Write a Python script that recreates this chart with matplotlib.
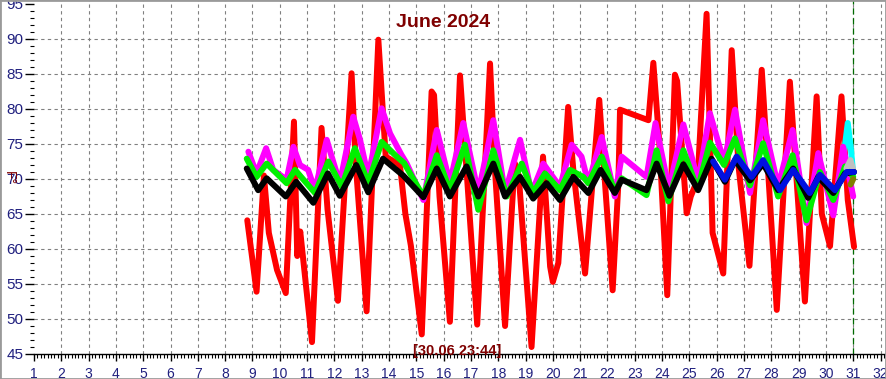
import matplotlib
matplotlib.use("Agg")
import matplotlib.pyplot as plt
from matplotlib.patches import Rectangle
from matplotlib.ticker import MultipleLocator

plt.rcParams["font.family"] = ["Liberation Sans", "DejaVu Sans"]

# readings taken off the June 2024 chart (day of month, deg F)
red_days = [8.81, 9.15, 9.42, 9.6, 9.9, 10.22, 10.52, 10.64, 10.75, 11.18,
            11.53, 11.75, 12.13, 12.63, 12.78, 13.18, 13.61, 13.88, 14.4, 14.6,
            14.8, 15.2, 15.56, 15.65, 15.85, 16.23, 16.6, 17.23, 17.7, 17.88,
            18.25, 18.6, 18.75, 19.22, 19.64, 19.9, 20.0, 20.2, 20.56, 20.75,
            21.18, 21.7, 21.85, 22.19, 22.4, 22.46, 23.5, 23.68, 23.9, 24.19,
            24.47, 24.55, 24.9, 25.05, 25.3, 25.63, 25.85, 26.24, 26.55, 26.8,
            27.2, 27.65, 28.2, 28.68, 29.23, 29.66, 29.85, 30.15, 30.57, 30.8,
            31.03]
red_temps = [64.1, 53.9, 70.5, 62.3, 57.0, 53.7, 78.2, 59.0, 62.5, 46.7,
             77.3, 65.6, 52.6, 85.1, 72.3, 51.1, 89.9, 73.2, 72.0, 65.0,
             60.5, 47.8, 82.5, 82.0, 67.5, 49.6, 84.8, 49.2, 86.5, 71.3,
             49.0, 72.3, 70.5, 46.0, 73.2, 57.5, 55.3, 58.0, 80.3, 71.3,
             56.5, 81.3, 72.7, 54.1, 69.4, 79.9, 78.4, 86.6, 75.1, 53.4,
             84.9, 84.0, 65.1, 67.5, 69.9, 93.6, 62.3, 56.5, 88.4, 71.8,
             57.6, 85.6, 51.3, 83.9, 52.5, 81.8, 65.0, 60.4, 81.8, 67.0,
             60.3]

magenta_days = [8.85, 9.15, 9.5, 9.76, 10.25, 10.5, 10.74, 11.04, 11.29, 11.72,
                11.9, 12.2, 12.69, 12.94, 13.24, 13.73, 14.04, 14.45, 14.65, 15.26,
                15.75, 16.23, 16.72, 17.27, 17.82, 18.25, 18.8, 19.22, 19.65, 20.26,
                20.69, 21.05, 21.3, 21.79, 22.27, 22.52, 23.43, 23.76, 24.25, 24.78,
                25.32, 25.75, 26.27, 26.67, 27.22, 27.7, 28.25, 28.78, 29.29, 29.72,
                30.27, 30.63, 31.0]
magenta_temps = [73.9, 70.8, 74.4, 71.3, 69.9, 74.6, 72.0, 71.3, 68.4, 75.6,
                 73.2, 69.4, 78.9, 75.6, 70.3, 80.1, 76.5, 73.5, 72.2, 67.0,
                 77.0, 69.4, 78.0, 68.0, 78.4, 68.0, 75.6, 68.0, 72.2, 68.9,
                 74.9, 73.2, 69.4, 76.0, 67.5, 73.2, 70.3, 78.0, 68.5, 77.8,
                 69.6, 79.4, 72.4, 79.9, 68.0, 78.4, 68.9, 77.0, 63.7, 73.7,
                 64.8, 74.6, 67.5]

green_days = [8.79, 9.15, 9.52, 10.25, 10.56, 11.29, 11.78, 12.27, 12.75, 13.24,
              13.73, 14.28, 14.55, 15.26, 15.75, 16.23, 16.78, 17.27, 17.82, 18.31,
              18.86, 19.28, 19.71, 20.26, 20.63, 21.11, 21.3, 21.79, 22.27, 22.52,
              23.43, 23.8, 24.23, 24.78, 25.3, 25.75, 26.27, 26.67, 27.22, 27.7,
              28.25, 28.78, 29.29, 29.78, 30.27, 30.7, 31.0]
green_temps = [72.9, 70.3, 72.2, 69.4, 71.3, 68.0, 72.5, 68.9, 74.4, 69.4,
               75.3, 73.2, 72.3, 67.5, 73.4, 68.4, 74.9, 65.6, 74.1, 67.5,
               72.2, 68.0, 70.8, 68.4, 71.3, 70.3, 69.4, 73.2, 68.2, 70.1,
               67.7, 74.1, 66.8, 74.1, 68.5, 75.2, 72.0, 75.8, 69.1, 75.1,
               67.5, 73.4, 64.1, 71.0, 67.0, 71.8, 70.3]

black_days = [8.79, 9.21, 9.52, 10.22, 10.6, 11.23, 11.76, 12.2, 12.8, 13.24,
              13.78, 14.52, 15.26, 15.75, 16.23, 16.84, 17.27, 17.82, 18.25, 18.8,
              19.28, 19.77, 20.26, 20.75, 21.3, 21.75, 22.27, 22.52, 23.43, 23.8,
              24.27, 24.78, 25.32, 25.81, 26.3, 26.67, 27.22, 27.7, 28.25, 28.8,
              29.35, 29.72, 30.27, 30.7, 31.03]
black_temps = [71.5, 68.4, 70.1, 67.5, 69.6, 66.6, 70.8, 67.6, 72.0, 68.1,
               72.9, 70.5, 67.4, 71.5, 67.5, 71.8, 67.5, 72.2, 67.5, 70.3,
               67.2, 69.4, 67.0, 70.3, 68.0, 71.3, 68.0, 69.9, 68.4, 72.2,
               67.6, 72.1, 68.4, 72.9, 69.6, 72.7, 69.8, 72.2, 68.4, 71.5,
               67.3, 70.3, 68.0, 70.8, 71.0]

blue_days = [25.87, 26.3, 26.73, 27.28, 27.7, 28.32, 28.8, 29.41, 29.78, 30.33,
             30.76, 31.03]
blue_temps = [72.5, 69.9, 73.2, 70.3, 72.7, 68.4, 71.3, 68.0, 70.6, 68.4,
              71.0, 71.0]

cyan_days = [30.6, 30.8, 30.92, 31.0]
cyan_temps = [71.8, 78.0, 74.1, 70.8]

gray_days = [30.75, 30.9, 31.0]
gray_temps = [71.5, 72.7, 71.3]

olive_days = [30.9, 31.0]
olive_temps = [69.2, 70.0]

day_ticks = list(range(1, 33))
month_title = "June 2024"
stamp_text = "[30.06 23:44]"

W, H = 886, 379
fig = plt.figure(figsize=(W / 100, H / 100), dpi=100)
fig.patch.set_facecolor("white")
ax = fig.add_axes([34 / W, 25 / H, 852 / W, 354 / H])
ax.set_facecolor("white")

ax.set_xlim(1, 32.2)
ax.set_ylim(45, 95 + 4 / 7)

# dashed grid, skipping the left edge and the top
for d in day_ticks[1:]:
    ax.axvline(d, color="#808080", linestyle=(0, (3, 3)), linewidth=0.8, zorder=0)
for v in range(50, 95, 5):
    ax.axhline(v, color="#808080", linestyle=(0, (3, 3)), linewidth=0.8, zorder=0)
ax.axvline(31, color="#006a00", linestyle=(0, (5, 3)), linewidth=0.9, zorder=1)

line_kw = dict(linewidth=4.3, solid_joinstyle="round", solid_capstyle="round")
ax.plot(red_days, red_temps, color="#ff0000", zorder=2, **line_kw)
ax.plot(cyan_days, cyan_temps, color="#00ffff", zorder=3, **line_kw)
ax.plot(magenta_days, magenta_temps, color="#ff00ff", zorder=3, **line_kw)
ax.plot(green_days, green_temps, color="#00f000", zorder=4, **line_kw)
ax.plot(gray_days, gray_temps, color="#c0c0c0", zorder=4, **line_kw)
ax.plot(olive_days, olive_temps, color="#808000", zorder=4, **line_kw)
ax.plot(black_days, black_temps, color="#000000", zorder=5, **line_kw)
ax.plot(blue_days, blue_temps, color="#0010e0", zorder=6, **line_kw)

for side in ["left", "top", "right"]:
    ax.spines[side].set_visible(False)
ax.spines["bottom"].set_color("black")
ax.spines["bottom"].set_linewidth(1.0)

ax.set_xticks(day_ticks)
ax.xaxis.set_minor_locator(MultipleLocator(1 / 8))
ax.yaxis.set_major_locator(MultipleLocator(5))
ax.yaxis.set_minor_locator(MultipleLocator(1))
ax.tick_params(axis="x", which="major", length=5, width=1, pad=4,
               labelsize=10, labelcolor="#20207f")
ax.tick_params(axis="x", which="minor", length=3, width=0.8)
ax.tick_params(axis="y", which="major", length=6.5, width=1, pad=1,
               labelsize=11, labelcolor="#20207f")
ax.tick_params(axis="y", which="minor", length=3, width=0.8)

fig.text(443 / W, 1 - 27 / H, month_title, ha="center", va="baseline",
         fontsize=14, fontweight="bold", color="#7f0000")
fig.text(457 / W, 1 - 355 / H, stamp_text, ha="center", va="baseline",
         fontsize=10.5, fontweight="bold", color="#7f0000")
fig.text(9 / W, 1 - 178 / H, "F°", ha="center", va="center", rotation=-90,
         fontsize=10, color="#7f0000")

fig.patches.append(Rectangle((0, 0), 1, 1, transform=fig.transFigure,
                             fill=False, edgecolor="#9a9a9a", linewidth=2))

fig.savefig("out.png", dpi=100)
